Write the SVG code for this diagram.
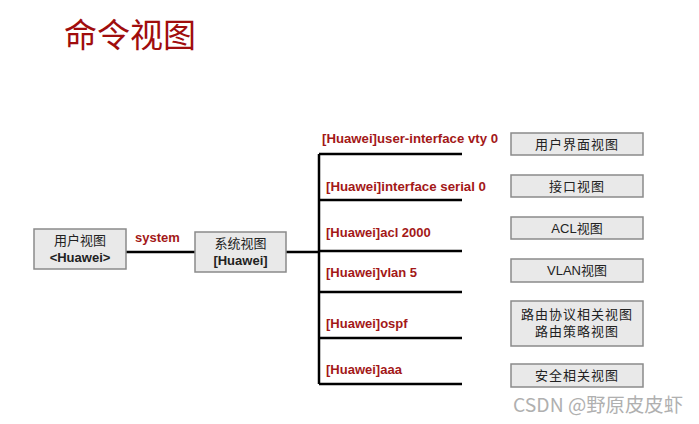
<svg xmlns="http://www.w3.org/2000/svg" width="699" height="424" viewBox="0 0 699 424">
<style>
.box{fill:#e9e9e9;stroke:#8a8a8a;stroke-width:1.5}
.bt{font-family:"Liberation Sans","Noto Sans CJK SC",sans-serif;font-size:13px;fill:#222;text-anchor:middle}
.bb{font-weight:bold}
.cmd{font-family:"Liberation Sans",sans-serif;font-size:13px;font-weight:bold;fill:#a31818}
.ln{stroke:#000;stroke-width:2.5;fill:none}
</style>
<rect width="699" height="424" fill="#fff"/>
<text x="64" y="47" font-family="'Noto Sans CJK SC',sans-serif" font-size="33" fill="#a00d0d">命令视图</text>
<g id="connectors">
<path class="ln" d="M126 252H195M286 252H319M319 154V384M319 154H462M319 200H462M319 251H462M319 292H462M319 338H462M319 384H462"/>
</g>
<g id="labels">
<text class="cmd" x="135" y="242" font-size="14">system</text>
<text class="cmd" x="322" y="143" textLength="176" lengthAdjust="spacingAndGlyphs">[Huawei]user-interface vty 0</text>
<text class="cmd" x="326" y="191" textLength="160" lengthAdjust="spacingAndGlyphs">[Huawei]interface serial 0</text>
<text class="cmd" x="326" y="237">[Huawei]acl 2000</text>
<text class="cmd" x="326" y="277">[Huawei]vlan 5</text>
<text class="cmd" x="326" y="328">[Huawei]ospf</text>
<text class="cmd" x="326" y="374">[Huawei]aaa</text>
</g>
<g id="user-view">
<rect class="box" x="34" y="229" width="92" height="40"/>
<text class="bt" x="80" y="245">用户视图</text>
<text class="bt bb" x="80" y="262">&lt;Huawei&gt;</text>
</g>
<g id="system-view">
<rect class="box" x="195" y="232" width="91" height="40"/>
<text class="bt" x="240.5" y="248">系统视图</text>
<text class="bt bb" x="240.5" y="265">[Huawei]</text>
</g>
<g id="ui-view">
<rect class="box" x="511" y="133" width="132" height="22"/>
<text class="bt" x="577" y="148.5" letter-spacing="1">用户界面视图</text>
</g>
<g id="if-view">
<rect class="box" x="511" y="175" width="132" height="22"/>
<text class="bt" x="577" y="190.5" letter-spacing="1">接口视图</text>
</g>
<g id="acl-view">
<rect class="box" x="511" y="217" width="132" height="22"/>
<text class="bt" x="577" y="232.5">ACL视图</text>
</g>
<g id="vlan-view">
<rect class="box" x="511" y="259" width="132" height="23"/>
<text class="bt" x="577" y="275">VLAN视图</text>
</g>
<g id="route-view">
<rect class="box" x="511" y="301" width="132" height="45"/>
<text class="bt" x="577" y="319" letter-spacing="1">路由协议相关视图</text>
<text class="bt" x="577" y="336" letter-spacing="1">路由策略视图</text>
</g>
<g id="sec-view">
<rect class="box" x="511" y="364" width="132" height="23"/>
<text class="bt" x="577" y="380" letter-spacing="1">安全相关视图</text>
</g>
<text x="513" y="412" font-family="'Noto Sans CJK SC',sans-serif" font-size="19" fill="#b0b0b0" textLength="170" lengthAdjust="spacingAndGlyphs">CSDN @野原皮皮虾</text>
</svg>
